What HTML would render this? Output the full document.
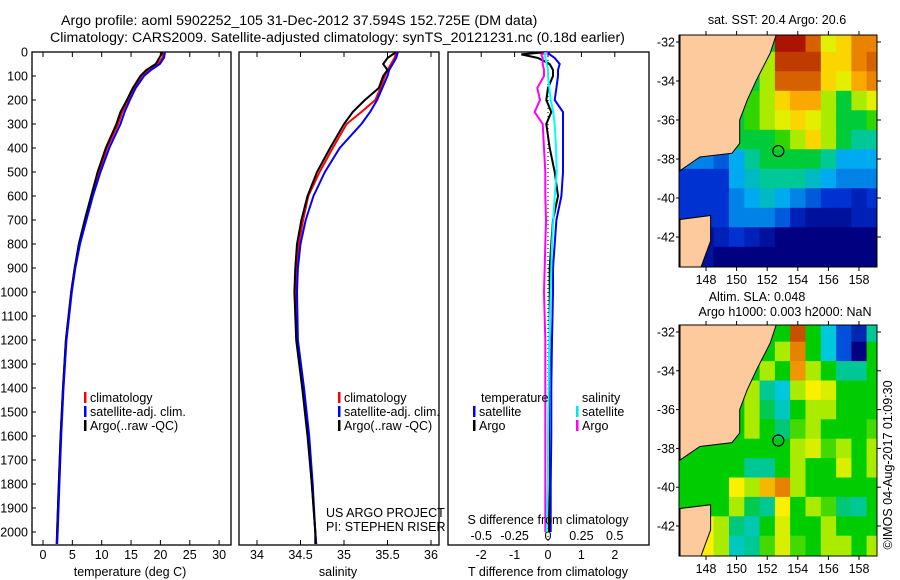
<!DOCTYPE html>
<html><head><meta charset="utf-8">
<style>
html,body{margin:0;padding:0;background:#fff;}
svg{display:block;font-family:"Liberation Sans",sans-serif;}
text{font-size:12.5px;fill:#000;}
</style></head>
<body>
<svg id="fig" width="900" height="580" viewBox="0 0 900 580" xmlns="http://www.w3.org/2000/svg">
<text x="61" y="25" text-anchor="start" style="font-size:14.2px">Argo profile: aoml 5902252_105 31-Dec-2012 37.594S 152.725E (DM data)</text>
<text x="50" y="42" text-anchor="start" style="font-size:14.2px">Climatology: CARS2009. Satellite-adjusted climatology: synTS_20121231.nc (0.18d earlier)</text>
<g id="plots"></g>
<text x="777" y="24" text-anchor="middle">sat. SST: 20.4 Argo: 20.6</text>
<text x="757" y="301" text-anchor="middle">Altim. SLA: 0.048</text>
<text x="785" y="316" text-anchor="middle">Argo h1000: 0.003 h2000: NaN</text>
<text transform="translate(892,465) rotate(-90)" text-anchor="middle">©IMOS 04-Aug-2017 01:09:30</text>
</svg>
<script>
// ---------- profile data ----------
const depths = [0,25,50,75,100,150,200,250,300,400,500,600,700,800,900,1000,1200,1400,1600,1800,2000,2050];
const tempClim = [20.6,20.3,19.5,18,16.8,15.5,14.5,13.5,12.8,10.9,9.5,8.3,7.2,6.2,5.4,4.8,3.9,3.4,3.0,2.7,2.4,2.3];
const tempSat  = [20.8,20.6,19.9,18.4,17.2,15.8,14.8,13.9,13.2,11.3,9.8,8.5,7.4,6.3,5.5,4.9,4.0,3.5,3.1,2.8,2.5,2.4];
const tempArgo = [20.4,19.8,19.2,17.6,16.6,15.3,14.3,13.2,12.5,10.7,9.3,8.2,7.1,6.1,5.4,4.8,3.9,3.4,3.0,2.7,2.4,2.4];
const salClim = [35.6,35.58,35.54,35.5,35.47,35.42,35.36,35.2,35.03,34.87,34.72,34.59,34.53,34.48,34.46,34.45,34.46,34.53,34.59,34.63,34.67,34.68];
const salSat  = [35.62,35.6,35.56,35.52,35.5,35.44,35.38,35.3,35.2,34.95,34.78,34.65,34.56,34.5,34.47,34.46,34.47,34.54,34.6,34.64,34.67,34.68];
const salArgo = [35.6,35.5,35.45,35.5,35.45,35.4,35.24,35.1,35.0,34.84,34.69,34.58,34.51,34.46,34.44,34.43,34.45,34.52,34.58,34.63,34.67,34.67];
const diffDepths = [0,10,25,50,75,100,150,200,250,300,400,500,600,700,800,900,1000,1200,1400,1600,1800,2000];
const tDiffSat  = [0,0.05,0.2,0.35,0.3,0.3,0.25,0.2,0.45,0.45,0.45,0.45,0.4,0.25,0.2,0.15,0.15,0.12,0.1,0.1,0.08,0.08];
const tDiffArgo = [0,-0.8,-0.3,0.05,0.15,0.15,0,-0.05,0.1,-0.05,0.05,0.2,0.3,0.15,0.1,0.05,0.05,0.05,0.03,0.03,0.03,0.03];
const sDiffSat  = [-0.02,-0.02,-0.02,-0.01,0,0,0.01,0.02,0.04,0.05,0.06,0.065,0.05,0.04,0.03,0.025,0.02,0.01,0.005,0,0,-0.01];
const sDiffArgo = [0,-0.05,-0.04,-0.04,-0.03,-0.03,-0.08,-0.06,-0.1,-0.04,-0.03,-0.02,-0.02,-0.015,-0.02,-0.025,-0.03,-0.02,-0.02,-0.02,-0.02,-0.02];
const depthTicks = [0,100,200,300,400,500,600,700,800,900,1000,1100,1200,1300,1400,1500,1600,1700,1800,1900,2000];
const tempTicks = [0,5,10,15,20,25,30];
const salTicks = [34,34.5,35,35.5,36];
const salTickLabels = ["34","34.5","35","35.5","36"];
const tDiffTicks = [-2,-1,0,1,2];
const sDiffTicks = [-0.5,-0.25,0,0.25,0.5];
const sDiffTickLabels = ["-0.5","-0.25","0","0.25","0.5"];
// ---------- map data ----------
const mapLons = [147,148,149,150,151,152,153,154,155,156,157,158,159];
const mapLats = [-32,-33,-34,-35,-36,-37,-38,-39,-40,-41,-42,-43];
const sstGrid = [
[20,20,20,20,20,20,24.5,24.5,23.5,21.5,22,23,23],
[20,20,20,20,20,21,24,24,24,22,22,23,23.5],
[20,20,20,20,20,21,23.5,23.5,23.5,22,21.5,22.5,23],
[20,20,20,20,20.5,21,22,22.5,22.5,21,20,21,21.5],
[20,20,20,20,20.5,21,21.5,22,21.5,21,20,20,20.5],
[20,20,20,20,20,20,20.5,21,22,21,20,19.5,19.5],
[18,18,17.5,18.5,19.5,20,20,20,20,19.5,18.5,18.5,18.5],
[17,17,17,18.5,19,19.5,19.5,19.5,19,18.5,18,18,18],
[17,17,17,18,18.5,19,18.5,18,17.5,17,17,16.5,17],
[17,17,17,18,18,18,17.5,16.5,16,16,16,16.5,16.5],
[16,16,16.5,17,16.5,16,15.5,15.5,15.5,15.5,15.5,15.5,15.5],
[16,16,15.5,15.5,15.5,15.5,15.5,15.5,15.5,15.5,15.5,15.5,15.5]];
const slaGrid = [
[0,0,0,0,0,0,0,0.25,0,-0.1,-0.2,-0.25,-0.05],
[0,0,0,0,0,0,0.05,0.2,0,-0.1,-0.2,-0.3,0],
[0,0,0,0,0,0.05,0,0.18,0.05,0,-0.05,-0.05,0],
[0,0,0,0,0.05,-0.05,-0.1,0.05,0.1,0.08,0,0,0],
[0,0,0,0,0.05,-0.02,-0.08,0,0.05,0.05,0,0,0],
[0,0,0,0,0.05,0,-0.03,0.02,0.05,0,0,0,0.02],
[0,0,0,0,0,0,0,0.05,0.08,0.02,0.05,0,0.05],
[0,0,0,0,-0.05,-0.05,0,0.05,0,0,0.08,0,0.05],
[0,0,0,0.1,0.05,0.15,0.2,0.05,0,0,0,0,0],
[0,0,0,0.05,-0.02,-0.05,0.1,0,0.05,0.02,-0.03,-0.05,0],
[0.1,0.1,0.05,-0.03,-0.07,0,0.08,0,0,0.05,0,0,0],
[0.1,0.1,0.05,-0.08,-0.05,0.02,0.08,0.02,0,0.05,0.05,0,0.05]];
const mainlandLon = [146.3,152.6,152.2,151.3,150.7,150.2,150.2,149.7,147.6,146.3];
const mainlandLat = [-31.6,-31.6,-32.56,-33.95,-34.97,-36.0,-37.2,-37.7,-37.9,-38.6];
const tasLon = [146.3,148.3,148.3,147.6,146.3];
const tasLat = [-41.1,-40.9,-42.2,-43.7,-43.7];
const argoLon = 152.725, argoLat = -37.594;
const lonTicks = [148,150,152,154,156,158];
const latTicks = [-32,-34,-36,-38,-40,-42];

const NS="http://www.w3.org/2000/svg";
const root=document.getElementById('plots');
function mk(tag,attrs,parent){const e=document.createElementNS(NS,tag);for(const k in attrs)e.setAttribute(k,attrs[k]);(parent||root).appendChild(e);return e;}
function txt(x,y,s,anchor,parent){const t=mk('text',{x:x,y:y,'text-anchor':anchor||'middle'},parent);t.textContent=s;return t;}

const yTop=52, yBot=545;
const yD=d=>yTop+d*0.24;
const xT=v=>43+v*5.87;
const xS=v=>257+(v-34)*87;
const xTD=v=>548+v*33.4;
const xSD=v=>548+v*133.5;

function line(xs,ys,fx,color,name,parent){
  const pts=xs.map((v,i)=>fx(v).toFixed(1)+','+yD(ys[i]).toFixed(1)).join(' ');
  const p=mk('polyline',{points:pts,fill:'none',stroke:color,'stroke-width':2,'stroke-linejoin':'miter'},parent);
  
  
}
function frame(x0,x1,name){
  const g=mk('g',{});
  
  
  mk('rect',{x:x0,y:yTop,width:x1-x0,height:yBot-yTop,fill:'none',stroke:'#000','stroke-width':1.3},g);
  return g;
}
// Panel 1
const p1=frame(32,231,'temperature-panel');
depthTicks.forEach(d=>{mk('line',{x1:32,x2:36,y1:yD(d),y2:yD(d),stroke:'#000'},p1);const t=txt(28,yD(d)+4.5,String(d),'end',p1);
 
 });
tempTicks.forEach(v=>{mk('line',{x1:xT(v),x2:xT(v),y1:yTop,y2:yTop+5,stroke:'#000'},p1);mk('line',{x1:xT(v),x2:xT(v),y1:yBot,y2:yBot-5,stroke:'#000'},p1);txt(xT(v),559,String(v),'middle',p1);});
txt(130,576,'temperature (deg C)','middle',p1);
line(tempClim,depths,xT,'#ff0000','temp-climatology-line',p1);
line(tempArgo,depths,xT,'#000000','temp-argo-line',p1);
line(tempSat,depths,xT,'#0000ff','temp-satellite-line',p1);
function legend(x,y,items,parent,name){
  const g=mk('g',{},parent);
  
  
  items.forEach((it,i)=>{mk('rect',{x:x,y:y+i*14-6,width:2.5,height:11,fill:it[1]},g);txt(x+6,y+i*14+4,it[0],'start',g);});
}
legend(84,398,[['climatology','#ff0000'],['satellite-adj. clim.','#0000ff'],['Argo(..raw -QC)','#000']],p1,'temperature-legend');
// Panel 2
const p2=frame(239,439,'salinity-panel');
salTicks.forEach((v,i)=>{mk('line',{x1:xS(v),x2:xS(v),y1:yTop,y2:yTop+5,stroke:'#000'},p2);mk('line',{x1:xS(v),x2:xS(v),y1:yBot,y2:yBot-5,stroke:'#000'},p2);txt(xS(v),559,salTickLabels[i],'middle',p2);});
txt(338,576,'salinity','middle',p2);
line(salClim,depths,xS,'#ff0000','sal-climatology-line',p2);
line(salSat,depths,xS,'#0000ff','sal-satellite-line',p2);
line(salArgo,depths,xS,'#000000','sal-argo-line',p2);
legend(338,398,[['climatology','#ff0000'],['satellite-adj. clim.','#0000ff'],['Argo(..raw -QC)','#000']],p2,'salinity-legend');
txt(326,517,'US ARGO PROJECT','start',p2);
txt(326,531,'PI: STEPHEN RISER','start',p2);
// Panel 3
const p3=frame(448,649,'difference-panel');
tDiffTicks.forEach(v=>{mk('line',{x1:xTD(v),x2:xTD(v),y1:yTop,y2:yTop+5,stroke:'#000'},p3);txt(xTD(v),559,String(v),'middle',p3);});
sDiffTicks.forEach((v,i)=>txt(xSD(v),540,sDiffTickLabels[i],'middle',p3));
mk('line',{x1:548,x2:548,y1:yTop,y2:yBot,stroke:'#000','stroke-dasharray':'1,3'},p3);
line(tDiffSat,diffDepths,xTD,'#0000ff','tdiff-satellite-line',p3);
line(tDiffArgo,diffDepths,xTD,'#000000','tdiff-argo-line',p3);
line(sDiffArgo,diffDepths,xSD,'#ff00ff','sdiff-argo-line',p3);
line(sDiffSat,diffDepths,xSD,'#00ffff','sdiff-satellite-line',p3);
txt(481,402,'temperature','start',p3);
legend(473,412,[['satellite','#0000ff'],['Argo','#000']],p3,'tdiff-legend');
txt(582,402,'salinity','start',p3);
legend(576,412,[['satellite','#00e5ee'],['Argo','#ff00ff']],p3,'sdiff-legend');
txt(548,524,'S difference from climatology','middle',p3);
txt(548,576,'T difference from climatology','middle',p3);

// ---------- maps ----------
function lerp(a,b,t){return a+(b-a)*t;}
function cmap(stops,v){
  if(v<=stops[0][0])return stops[0][1];
  for(let i=1;i<stops.length;i++){if(v<=stops[i][0]){const t=(v-stops[i-1][0])/(stops[i][0]-stops[i-1][0]);const a=stops[i-1][1],b=stops[i][1];return [0,1,2].map(k=>Math.round(lerp(a[k],b[k],t)));}}
  return stops[stops.length-1][1];
}
function toRgb(c){return 'rgb('+c.join(',')+')';}
const sstStops=[[15.5,[0,0,128]],[17,[0,50,210]],[18.5,[0,170,240]],[19.5,[0,200,150]],[20.3,[0,205,0]],[21,[170,235,0]],[21.7,[250,240,0]],[22.6,[250,160,0]],[23.6,[210,90,0]],[24.5,[170,20,0]]];
const slaStops=[[-0.3,[0,0,128]],[-0.2,[0,80,220]],[-0.1,[0,200,220]],[-0.03,[0,200,120]],[0,[0,205,0]],[0.05,[170,235,0]],[0.1,[250,240,0]],[0.18,[240,150,0]],[0.25,[200,80,0]]];
function drawMap(y0,y1,yLat32,pxLat,grid,stops,name){
  const x0=679,x1=877;
  const xL=l=>706+(l-148)*15.3;
  const yL=l=>yLat32+(-32-l)*pxLat;
  const g=mk('g',{});
  
  
  const cid='clip'+name;
  const cp=mk('clipPath',{id:cid},g);mk('rect',{x:x0,y:y0,width:x1-x0,height:y1-y0},cp);
  const inner=mk('g',{'clip-path':'url(#'+cid+')'},g);
  const cells=mk('g',{},inner);
  grid.forEach((row,r)=>row.forEach((v,c)=>{
    const cx=xL(mapLons[c]),cy=yL(mapLats[r]);
    const w=15.3,h=pxLat;
    const cell=mk('rect',{x:(cx-w/2-(c==0?20:0)).toFixed(1),y:(cy-h/2-(r==0?15:0)).toFixed(1),width:(w+1+(c==0?20:0)+(c==row.length-1?20:0)).toFixed(1),height:(h+1+(r==0?15:0)+(r==grid.length-1?20:0)).toFixed(1),fill:toRgb(cmap(stops,v))},cells);
    
    
  }));
  const poly=(lons,lats)=>lons.map((l,i)=>xL(l).toFixed(1)+','+yL(lats[i]).toFixed(1)).join(' ');
  const land=mk('polygon',{points:poly(mainlandLon,mainlandLat),fill:'#fcca9c',stroke:'#000','stroke-width':1},inner);
  
  
  const tas=mk('polygon',{points:poly(tasLon,tasLat),fill:'#fcca9c',stroke:'#000','stroke-width':1},inner);
  
  
  const c=mk('circle',{cx:xL(argoLon),cy:yL(argoLat),r:5.5,fill:'none',stroke:'#000','stroke-width':1.2},g);
  
  
  mk('rect',{x:x0,y:y0,width:x1-x0,height:y1-y0,fill:'none',stroke:'#000','stroke-width':1},g);
  lonTicks.forEach(l=>{mk('line',{x1:xL(l),x2:xL(l),y1:y0,y2:y0-4,stroke:'#000'},g);mk('line',{x1:xL(l),x2:xL(l),y1:y1,y2:y1+4,stroke:'#000'},g);txt(xL(l),y1+17,String(l),'middle',g);});
  latTicks.forEach(l=>{mk('line',{x1:x1,x2:x1+4,y1:yL(l),y2:yL(l),stroke:'#000'},g);mk('line',{x1:x0,x2:x0-3,y1:yL(l),y2:yL(l),stroke:'#000'},g);txt(675,yL(l)+4.5,String(l),'end',g);});
}
drawMap(35,267,42,19.5,sstGrid,sstStops,'sst-map');
drawMap(325,556,332,19.4,slaGrid,slaStops,'sla-map');
</script>
</body></html>
